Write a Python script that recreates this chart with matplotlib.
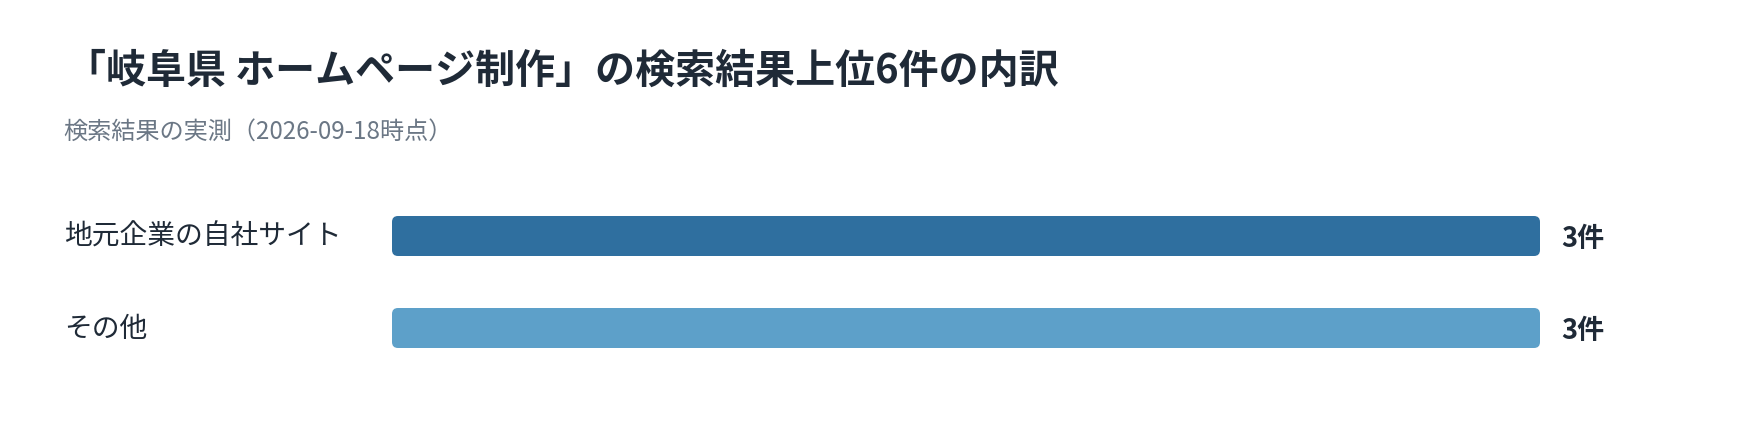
import matplotlib
matplotlib.use('Agg')
import matplotlib.pyplot as plt
from matplotlib.patches import FancyBboxPatch
from matplotlib import transforms

plt.rcParams['font.family'] = ['Noto Sans CJK JP', 'DejaVu Sans']

title = '「岐阜県 ホームページ制作」の検索結果上位6件の内訳'
subtitle = '検索結果の実測（2026-09-18時点）'
categories = ['地元企業の自社サイト', 'その他']
counts = [3, 3]
colors = ['#2F6F9F', '#5DA0C9']

W, H = 1760, 448
fig = plt.figure(figsize=(W / 100, H / 100), dpi=100)
fig.patch.set_facecolor('white')

# axes placed in pixel coords: bars run from x=392 to x=1540
left, right = 392, 1540
top, bottom = 190, 374
ax = fig.add_axes([left / W, (H - bottom) / H, (right - left) / W, (bottom - top) / H])
ax.set_xlim(0, max(counts))
ax.set_ylim(len(categories) - 0.5, -0.5)
ax.axis('off')

bar_h = 40 / 92
bars = ax.barh(range(len(categories)), counts, height=bar_h, color=colors)

# swap plain rectangles for rounded ones
px_x = max(counts) / (right - left)
px_y = len(categories) / (bottom - top)
for b, c in zip(bars, colors):
    b.set_visible(False)
    p = FancyBboxPatch((b.get_x(), b.get_y()), b.get_width(), b.get_height(),
                       boxstyle=f'round,pad=0,rounding_size={6 * px_x}',
                       mutation_aspect=px_y / px_x,
                       facecolor=c, edgecolor='none')
    ax.add_patch(p)

text_color = '#1F2A37'
for i, v in enumerate(counts):
    ax.annotate(f'{v}件', xy=(v, i), xytext=(15, -2.5), textcoords='offset points',
                ha='left', va='center', fontsize=19.5, fontweight='bold',
                color=text_color)

lab_tr = transforms.blended_transform_factory(fig.transFigure, ax.transData)
for i, cat in enumerate(categories):
    ax.text(64 / W, i + 0.01, cat, transform=lab_tr, ha='left', va='center',
            fontsize=20, color=text_color)

fig.text(66 / W, 1 - 71 / H, title, ha='left', va='center', fontsize=28.8,
         fontweight='bold', color=text_color)
fig.text(63 / W, 1 - 132 / H, subtitle, ha='left', va='center', fontsize=17.4,
         color='#6B7785')

fig.savefig('out.png', dpi=100, facecolor='white')
